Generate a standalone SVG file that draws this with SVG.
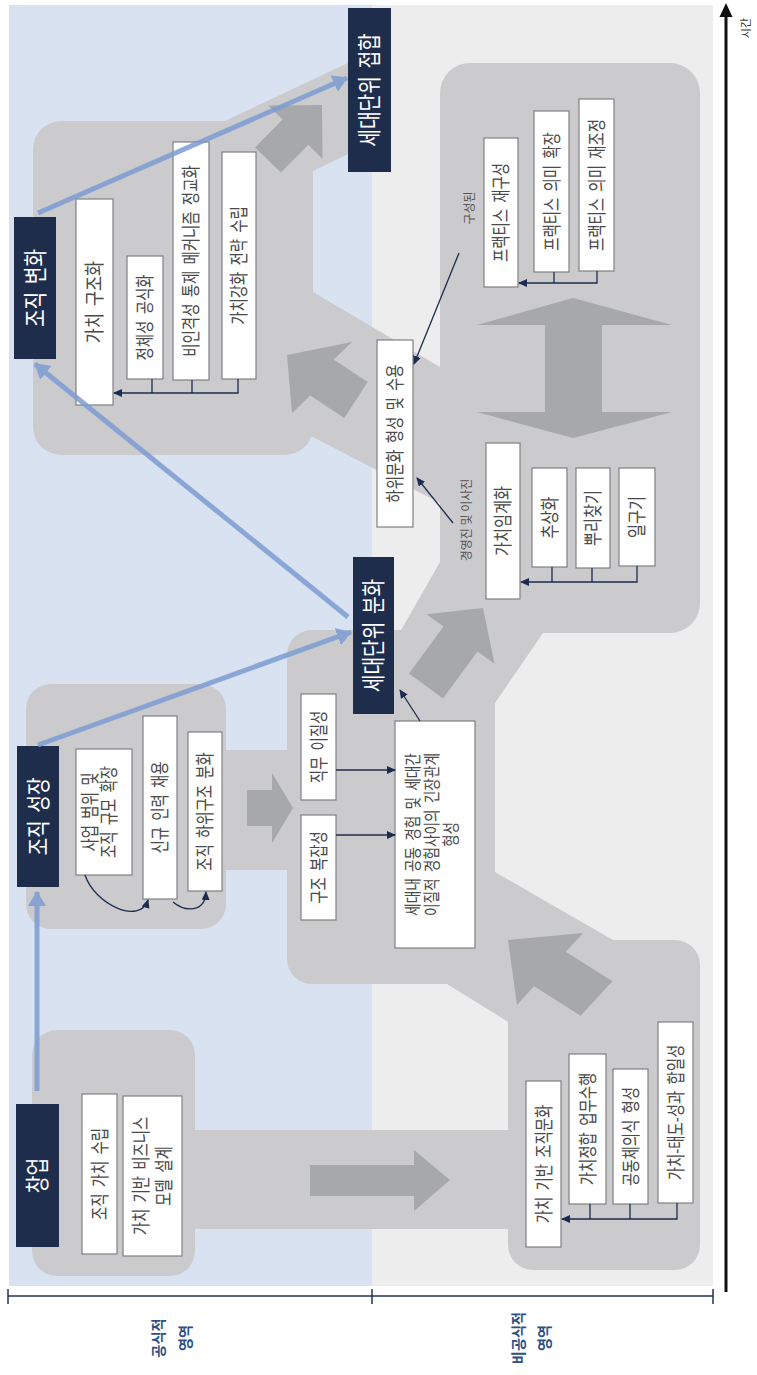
<svg xmlns="http://www.w3.org/2000/svg" width="757" height="1375" viewBox="0 0 757 1375">
<defs>
<style>
.nb{fill:#1f2d4d}
.nt{font-family:"Noto Sans CJK KR","Noto Sans",sans-serif;font-size:24px;fill:#ffffff;text-anchor:middle;word-spacing:4px}
.wb{fill:#ffffff;stroke:#808080;stroke-width:1.2}
.wt{font-family:"Noto Sans CJK KR","Noto Sans",sans-serif;font-size:19px;fill:#4a4a4a;text-anchor:middle;word-spacing:4px}
.st{font-family:"Noto Sans CJK KR","Noto Sans",sans-serif;font-size:12px;fill:#555555;text-anchor:middle}
.lb{font-family:"Noto Sans CJK KR","Noto Sans",sans-serif;font-size:15px;font-weight:bold;fill:#2d4f86;text-anchor:middle}
.cn{fill:none;stroke:#1c2b50;stroke-width:1.3}
.bl{fill:none;stroke:#7d9cd2;stroke-width:5}
.da{fill:#a7a8ab}
</style>
<marker id="ah" markerUnits="userSpaceOnUse" markerWidth="9" markerHeight="8" refX="8" refY="4" orient="auto"><path d="M0,0 L9,4 L0,8 z" fill="#1c2b50"/></marker>
<marker id="bh" markerUnits="userSpaceOnUse" markerWidth="15" markerHeight="18" refX="14" refY="9" orient="auto"><path d="M0,0 L15,9 L0,18 z" fill="#7d9cd2"/></marker>
</defs>

<g id="background">
<rect x="9" y="5" width="363" height="1281" fill="#d8e2f1"/>
<rect x="372" y="5" width="341" height="1281" fill="#ededed"/>
</g>

<g id="panels" fill="#cbcbcd">
<rect x="32" y="1030" width="163" height="246" rx="25"/>
<rect x="190" y="1130" width="325" height="99"/>
<rect x="508" y="940" width="192" height="330" rx="25"/>
<polygon points="440,872 495,872 613,940 650,940 650,1040 510,1040 510,1023 447,984 440,984"/>
<rect x="287" y="630" width="208" height="354" rx="25"/>
<polygon points="400,632 440,562 560,562 560,633 543,633 495,703 470,703 470,632"/>
<rect x="440" y="63" width="260" height="570" rx="30"/>
<rect x="33" y="121" width="280" height="334" rx="28"/>
<polygon points="225,121 350,62 370,62 370,153 350,153 313,171 225,171"/>
<polygon points="290,292 313,292 440,367 450,367 450,503 440,503 313,437 290,437"/>
<rect x="220" y="750" width="72" height="120"/>
<rect x="26" y="684" width="200" height="245" rx="25"/>
</g>

<g id="flow-arrows">
<polygon class="da" points="310,1165 414,1165 414,1150 450,1180 414,1211 414,1196 310,1196"/>
<polygon class="da" points="247,790 272,790 272,773 293,808 272,843 272,826 247,826"/>
<polygon class="da" points="508,940 583,933 565.9,951.7 612.4,981.2 580.6,1015.8 534.1,986.3 517,1005"/>
<polygon class="da" points="483,608 494.5,663.8 477.5,651.4 443,698.4 409,673.6 443.5,626.6 426.5,614.2"/>
<polygon class="da" points="287,355 352,342 333.7,359.5 367.7,382 344.3,418 310.3,395.5 292,413"/>
<polygon class="da" points="322,105 322.5,158.7 308.3,144.7 280.9,172.6 255.1,147.4 282.5,119.5 268.3,105.5"/>
<polygon class="da" points="573,298 672,325 602,325 602,412 672,412 573,438 477,412 545,412 545,325 477,325"/>
</g>

<g id="n-founding">
<rect class="nb" x="16" y="1104" width="43" height="143"/>
<text class="nt" transform="translate(37.5,1175.5) rotate(-90) scale(0.8,1)" y="8.5">창업</text>
</g>
<g id="n-growth">
<rect class="nb" x="17" y="746" width="42" height="141"/>
<text class="nt" transform="translate(38,816.5) rotate(-90) scale(0.8,1)" y="8.5">조직 성장</text>
</g>
<g id="n-change">
<rect class="nb" x="14" y="217" width="42" height="142"/>
<text class="nt" transform="translate(35,288) rotate(-90) scale(0.8,1)" y="8.5">조직 변화</text>
</g>
<g id="n-split">
<rect class="nb" x="353" y="557" width="41" height="157"/>
<text class="nt" transform="translate(373.5,635.5) rotate(-90) scale(0.8,1)" y="8.5">세대단위 분화</text>
</g>
<g id="n-join">
<rect class="nb" x="348" y="8" width="43" height="164"/>
<text class="nt" transform="translate(369.5,90) rotate(-90) scale(0.8,1)" y="8.5">세대단위 접합</text>
</g>

<g id="w-value">
<rect class="wb" x="82" y="1094" width="35" height="160"/>
<text class="wt" transform="translate(99.5,1174) rotate(-90) scale(0.76,1)" y="7">조직 가치 수립</text>
</g>
<g id="w-bm">
<rect class="wb" x="123" y="1096" width="59" height="160"/>
<text class="wt" transform="translate(152,1176) rotate(-90) scale(0.76,1)"><tspan x="0" y="-4.5">가치 기반 비즈니스</tspan><tspan x="0" y="18.5">모델 설계</tspan></text>
</g>
<g id="w-scope">
<rect class="wb" x="76" y="749" width="56" height="126"/>
<text class="wt" transform="translate(100,812) rotate(-90) scale(0.76,1)"><tspan x="0" y="-3">사업 범위 및</tspan><tspan x="0" y="16">조직 규모 확장</tspan></text>
</g>
<g id="w-hire">
<rect class="wb" x="143" y="716" width="34" height="183"/>
<text class="wt" transform="translate(160,807.5) rotate(-90) scale(0.76,1)" y="7">신규 인력 채용</text>
</g>
<g id="w-sub">
<rect class="wb" x="188" y="732" width="34" height="159"/>
<text class="wt" transform="translate(205,811.5) rotate(-90) scale(0.76,1)" y="7">조직 하위구조 분화</text>
</g>
<g id="w-job">
<rect class="wb" x="301" y="694" width="35" height="106"/>
<text class="wt" transform="translate(318.5,747) rotate(-90) scale(0.76,1)" y="7">직무 이질성</text>
</g>
<g id="w-struct">
<rect class="wb" x="301" y="815" width="35" height="105"/>
<text class="wt" transform="translate(318.5,867.5) rotate(-90) scale(0.76,1)" y="7">구조 복잡성</text>
</g>
<g id="w-tension">
<rect class="wb" x="395" y="721" width="80" height="227"/>
<text class="wt" transform="translate(432,834.5) rotate(-90) scale(0.78,1)" style="font-size:17.5px"><tspan x="0" y="-13">세대내 공동 경험 및 세대간</tspan><tspan x="0" y="6">이질적 경험사이의 긴장관계</tspan><tspan x="0" y="25">형성</tspan></text>
</g>
<g id="w-subculture">
<rect class="wb" x="377" y="340" width="36" height="187"/>
<text class="wt" transform="translate(395,433.5) rotate(-90) scale(0.76,1)" y="7">하위문화 형성 및 수용</text>
</g>
<g id="w-p1">
<rect class="wb" x="484" y="138" width="34" height="149"/>
<text class="wt" transform="translate(501,212.5) rotate(-90) scale(0.76,1)" y="7">프랙티스 재구성</text>
</g>
<g id="w-p2">
<rect class="wb" x="534" y="111" width="35" height="161"/>
<text class="wt" transform="translate(551.5,191.5) rotate(-90) scale(0.76,1)" y="7">프랙티스 의미 확장</text>
</g>
<g id="w-p3">
<rect class="wb" x="579" y="99" width="35" height="172"/>
<text class="wt" transform="translate(596.5,185) rotate(-90) scale(0.76,1)" y="7">프랙티스 의미 재조정</text>
</g>
<g id="w-crit">
<rect class="wb" x="486" y="443" width="34" height="156"/>
<text class="wt" transform="translate(503,521) rotate(-90) scale(0.8,1)" y="7">가치임계화</text>
</g>
<g id="w-abs">
<rect class="wb" x="532" y="468" width="35" height="99"/>
<text class="wt" transform="translate(549.5,517.5) rotate(-90) scale(0.8,1)" y="7">추상화</text>
</g>
<g id="w-root">
<rect class="wb" x="576" y="468" width="34" height="100"/>
<text class="wt" transform="translate(593,518) rotate(-90) scale(0.8,1)" y="7">뿌리찾기</text>
</g>
<g id="w-cult">
<rect class="wb" x="619" y="468" width="36" height="98"/>
<text class="wt" transform="translate(637,517) rotate(-90) scale(0.8,1)" y="7">일구기</text>
</g>
<g id="w-vculture">
<rect class="wb" x="526" y="1081" width="35" height="166"/>
<text class="wt" transform="translate(543.5,1164) rotate(-90) scale(0.76,1)" y="7">가치 기반 조직문화</text>
</g>
<g id="w-align">
<rect class="wb" x="569" y="1054" width="37" height="150"/>
<text class="wt" transform="translate(587.5,1129) rotate(-90) scale(0.76,1)" y="7">가치정합 업무수행</text>
</g>
<g id="w-comm">
<rect class="wb" x="613" y="1069" width="35" height="135"/>
<text class="wt" transform="translate(630.5,1136.5) rotate(-90) scale(0.76,1)" y="7">공동체의식 형성</text>
</g>
<g id="w-unity">
<rect class="wb" x="658" y="1022" width="35" height="181"/>
<text class="wt" transform="translate(675.5,1112.5) rotate(-90) scale(0.76,1)" y="7">가치-태도-성과 합일성</text>
</g>
<g id="w-vstruct">
<rect class="wb" x="76" y="199" width="37" height="206"/>
<text class="wt" transform="translate(94.5,302) rotate(-90) scale(0.82,1)" y="7.5" style="font-size:20px">가치 구조화</text>
</g>
<g id="w-ident">
<rect class="wb" x="127" y="256" width="36" height="123"/>
<text class="wt" transform="translate(145,317.5) rotate(-90) scale(0.76,1)" y="7">정체성 공식화</text>
</g>
<g id="w-control">
<rect class="wb" x="173" y="142" width="36" height="238"/>
<text class="wt" transform="translate(191,261) rotate(-90) scale(0.76,1)" y="7">비인격성 통제 메커니즘 정교화</text>
</g>
<g id="w-strat">
<rect class="wb" x="222" y="152" width="34" height="227"/>
<text class="wt" transform="translate(239,265.5) rotate(-90) scale(0.76,1)" y="7">가치강화 전략 수립</text>
</g>

<g id="connectors">
<path class="cn" d="M85,875 C95,905 140,925 148,900" marker-end="url(#ah)"/>
<path class="cn" d="M173,902 C185,912 205,913 206,892" marker-end="url(#ah)"/>
<path class="cn" d="M336,770 H395" marker-end="url(#ah)"/>
<path class="cn" d="M336,835 H395" marker-end="url(#ah)"/>
<path class="cn" d="M420,721 L400,690" marker-end="url(#ah)"/>
<path class="cn" d="M597,271 V283 H519" marker-end="url(#ah)"/>
<path class="cn" d="M554,272 V283"/>
<path class="cn" d="M459,253 L414,364" marker-end="url(#ah)"/>
<path class="cn" d="M453,523 L417,478" marker-end="url(#ah)"/>
<path class="cn" d="M637,566 V582 H521" marker-end="url(#ah)"/>
<path class="cn" d="M552,567 V582 M592,568 V582"/>
<path class="cn" d="M677,1203 V1219 H562" marker-end="url(#ah)"/>
<path class="cn" d="M590,1204 V1219 M630,1204 V1219"/>
<path class="cn" d="M238,379 V393 H114" marker-end="url(#ah)"/>
<path class="cn" d="M152,379 V393 M192,380 V393"/>
<g opacity="0.85">
<path class="bl" d="M37,1091 V892" marker-end="url(#bh)"/>
<path class="bl" d="M38,745 L351,632" marker-end="url(#bh)"/>
<path class="bl" d="M348,617 L35,364" marker-end="url(#bh)"/>
<path class="bl" d="M38,213 L347,78" marker-end="url(#bh)"/>
</g>
</g>

<g id="labels">
<text class="st" transform="translate(470,208) rotate(-90)" y="4">구성된</text>
<text class="st" transform="translate(467,520) rotate(-90)" y="4">경영진 및 이사진</text>
</g>

<g id="axis">
<line x1="726" y1="1292" x2="726" y2="14" stroke="#111111" stroke-width="3"/>
<polygon points="726,3 719.5,17 732.5,17" fill="#111111"/>
<text class="st" transform="translate(746,28) rotate(-90)" y="4" style="fill:#333333;font-size:11px">시간</text>
<path d="M8,1296 H713 M8,1289 V1304 M372,1289 V1304 M713,1289 V1304" fill="none" stroke="#243456" stroke-width="1.5"/>
<text class="lb" transform="translate(172,1338) rotate(-90) scale(0.95,1)"><tspan x="0" y="-8">공식적</tspan><tspan x="0" y="19">영역</tspan></text>
<text class="lb" transform="translate(531,1338) rotate(-90) scale(0.95,1)"><tspan x="0" y="-7">비공식적</tspan><tspan x="0" y="19">영역</tspan></text>
</g>
</svg>
